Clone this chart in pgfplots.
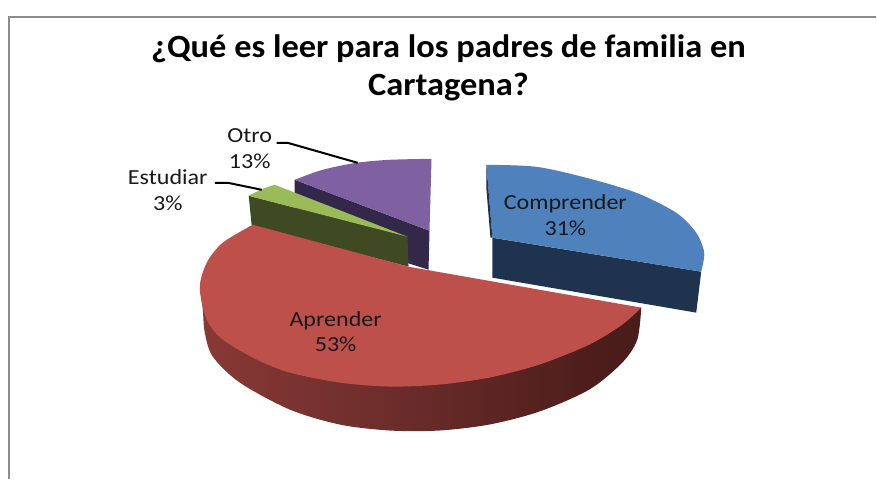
\documentclass[border=0pt]{standalone}
\usepackage{pgfplots}
\usepackage{fontspec}
\setmainfont{Carlito}
\newfontfamily\labelfont[FakeStretch=1.12]{Carlito}
\newfontfamily\titlefont[FakeStretch=1.06]{Carlito}
\pgfplotsset{compat=1.18}
\definecolor{azul}{HTML}{4F81BD}
\definecolor{azulosc}{HTML}{1F334E}
\definecolor{rojo}{HTML}{BE504C}
\definecolor{verde}{HTML}{9BBB59}
\definecolor{verdeosc}{HTML}{3F4A22}
\definecolor{morado}{HTML}{7F60A0}
\definecolor{moradoosc}{HTML}{33284A}
\definecolor{marco}{HTML}{8C8C8C}
\definecolor{rojoA}{HTML}{A5504C}
\definecolor{rojoB}{HTML}{8B3A36}
\definecolor{rojoC}{HTML}{6E2E2C}
\definecolor{rojoD}{HTML}{4A1C1A}
\pgfdeclarehorizontalshading{ladorojo}{100bp}{
  color(0bp)=(rojoA); color(23bp)=(rojoB); color(45bp)=(rojoC);
  color(72bp)=(rojoD); color(100bp)=(rojoD)}
\begin{document}
\begin{tikzpicture}
\begin{axis}[
    scale only axis,
    width=877bp,
    height=480bp,
    xmin=0, xmax=877,
    ymin=0, ymax=480,
    y dir=reverse,
    hide axis,
    clip=false,
    every axis plot/.append style={draw=none, mark=none},
]
% esquinas, para que la pagina tenga el tamano completo
\addplot[draw=none] coordinates {(0,0) (877,480)};
% marco
\addplot[draw=marco, line width=2bp] coordinates {(9,480) (9,17.5) (877,17.5)};
% Otro 13%
\addplot[fill=moradoosc] coordinates {(295,180) (430,231) (429,270) (410,264) (295,217)} -- cycle;
\addplot[fill=morado, smooth] coordinates {(295,180) (323,170) (357,163) (390,160) (432,159)} -- (axis cs:430,231) -- cycle;
% Estudiar 3%
\addplot[fill=verdeosc] coordinates {(249,196) (408,237) (409,267) (252,226)} -- cycle;
\addplot[fill=verde, smooth] coordinates {(249,196) (262,189.5) (275,185)} -- (axis cs:408,237) -- cycle;
% Aprender 53%
\addplot[shade, shading=ladorojo, smooth] coordinates {(200,288) (203,310) (205,333) (213,357) (240,383) (290,410) (340,425) (390,431) (440,431) (490,425) (540,412) (590,390) (623,363) (638,340) (642,308)} -- (axis cs:400,300) -- cycle;
\addplot[fill=rojo, smooth] coordinates {(642,308) (623,325) (590,345) (540,365) (490,378) (440,385) (390,387) (340,383) (290,373) (257,360) (223,340) (207,320) (200,288) (207,263) (223,243) (253,225)} -- (axis cs:409,267) -- cycle;
% Comprender 31%
\addplot[fill=azulosc] coordinates {(493,238) (702,272) (697,313) (493,278)} -- cycle;
\addplot[fill=azul, smooth] coordinates {(487,165) (537,167) (587,178) (637,193) (677,213) (697,233) (705,253) (702,272)} -- (axis cs:493,238) -- cycle;
\addplot[fill=azulosc] coordinates {(487,165) (487,190) (491,238) (493,238)} -- cycle;
% lineas guia
\addplot[draw=black, line width=2bp] coordinates {(277,143) (288,143) (358,163)};
\addplot[draw=black, line width=2bp] coordinates {(215,183) (228,183) (262,190)};
% textos
\node[font=\titlefont\bfseries\fontsize{32.5bp}{38bp}\selectfont, align=center] at (axis cs:449,68)
  {¿Qué es leer para los padres de familia en\\Cartagena?};
\node[font=\labelfont\fontsize{21.5bp}{26bp}\selectfont, align=center, text=black!90] at (axis cs:250,149) {Otro\\13\%};
\node[font=\labelfont\fontsize{21.5bp}{26bp}\selectfont, align=center, text=black!90] at (axis cs:168,190) {Estudiar\\3\%};
\node[font=\labelfont\fontsize{21.5bp}{26bp}\selectfont, align=center, text=black!90] at (axis cs:566,215) {Comprender\\31\%};
\node[font=\labelfont\fontsize{21.5bp}{26bp}\selectfont, align=center, text=black!90] at (axis cs:336,332) {Aprender\\53\%};
\end{axis}
\end{tikzpicture}
\end{document}
